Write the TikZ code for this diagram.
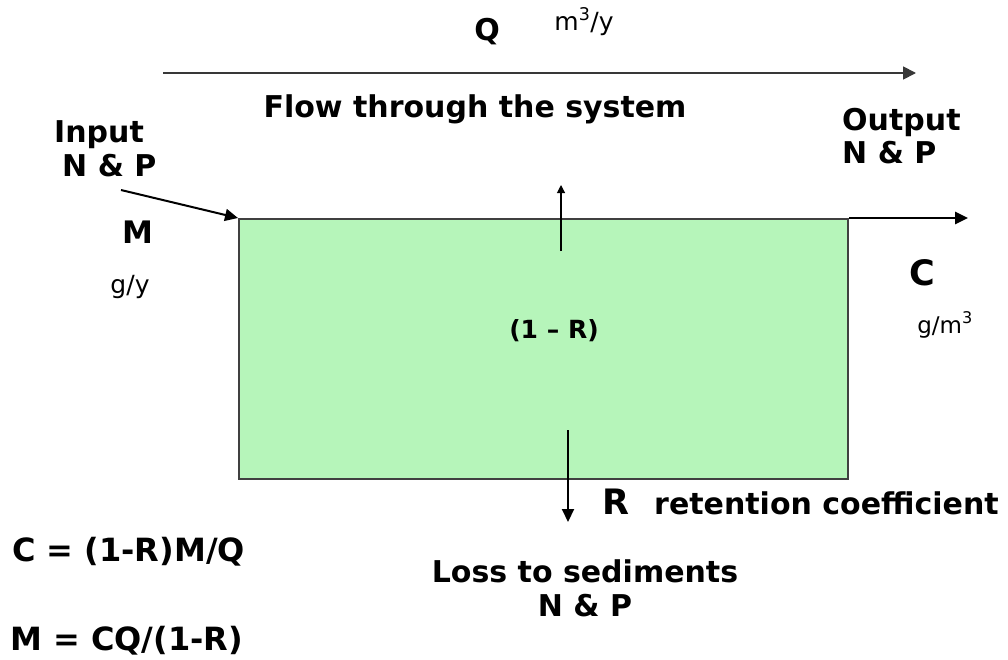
\documentclass[tikz,border=0pt]{standalone}
\usepackage{fontspec}
\setmainfont{DejaVu Sans}
\usetikzlibrary{arrows.meta}
\definecolor{boxfill}{HTML}{B6F5BA}
\definecolor{boxline}{HTML}{404040}
\definecolor{flowline}{HTML}{383838}
\tikzset{
  lbl/.style={inner sep=0pt, anchor=base, font=\bfseries\fontsize{30}{34}\selectfont},
  eqn/.style={inner sep=0pt, anchor=base west, font=\bfseries\fontsize{32}{36}\selectfont},
  big/.style={inner sep=0pt, anchor=base, font=\bfseries\fontsize{33}{38}\selectfont},
  unit/.style={inner sep=0pt, anchor=base, font=\fontsize{23}{27}\selectfont},
  arr/.style={-{Triangle[length=13pt,width=12pt]}, line width=2pt, black},
  flowarr/.style={-{Triangle[length=13pt,width=13pt]}, line width=1.8pt, flowline},
  uparr/.style={-{Triangle[length=8pt,width=8pt]}, line width=1.1pt, black},
}
\begin{document}
\begin{tikzpicture}[x=1pt,y=-1pt]
\useasboundingbox (0,0) rectangle (1008,659);
% box
\node[draw=boxline, fill=boxfill, line width=2pt, minimum width=609pt, minimum height=260pt, inner sep=0pt] (box) at (543.5,349) {};
% top flow
\coordinate (f1) at (163,73);
\coordinate (f2) at (916,73);
\draw[flowarr] (f1) -- (f2);
\node[lbl, font=\bfseries\fontsize{30}{34}\selectfont] (Q) at (487,40) {Q};
\node[unit, font=\fontsize{25}{29}\selectfont] (Qu) at (584,30) {m\textsuperscript{3}/y};
\node[lbl] (flow) at (475,117) {Flow through the system};
% input
\node[lbl, anchor=base west] (in1) at (54,142) {Input};
\node[lbl, anchor=base west] (in2) at (62,176) {N \& P};
\coordinate (i1) at (121,190);
\draw[arr] (i1) -- (box.north west);
\node[big, font=\bfseries\fontsize{31}{36}\selectfont] (M) at (138,243) {M};
\node[unit, font=\fontsize{25}{29}\selectfont] (My) at (130,293) {g/y};
% output
\node[lbl, anchor=base west] (out1) at (842,130) {Output};
\node[lbl, anchor=base west] (out2) at (842,163) {N \& P};
\coordinate (o2) at (968,218);
\draw[arr, line width=2.6pt] (box.north east) -- (o2);
\node[big, font=\bfseries\fontsize{35}{40}\selectfont] (C) at (922,285) {C};
\node[unit] (Cu) at (945,333) {g/m\textsuperscript{3}};
% inside
\node[lbl, font=\bfseries\fontsize{25}{29}\selectfont] (oneR) at (554,338) {(1 – R)};
\coordinate (u1) at (561,251);
\coordinate (u2) at (561,185);
\draw[uparr] (u1) -- (u2);
\coordinate (d1) at (568,430);
\coordinate (d2) at (568,522);
\draw[arr] (d1) -- (d2);
\node[big, font=\bfseries\fontsize{35}{40}\selectfont] (R) at (616,514) {R};
\node[lbl, anchor=base west] (ret) at (654,514) {retention coefficient};
\node[lbl] (loss1) at (585,582) {Loss to sediments};
\node[lbl] (loss2) at (585,616) {N \& P};
% equations
\node[eqn] (eq1) at (12,561) {C = (1-R)M/Q};
\node[eqn] (eq2) at (10,650) {M = CQ/(1-R)};
\end{tikzpicture}
\end{document}
